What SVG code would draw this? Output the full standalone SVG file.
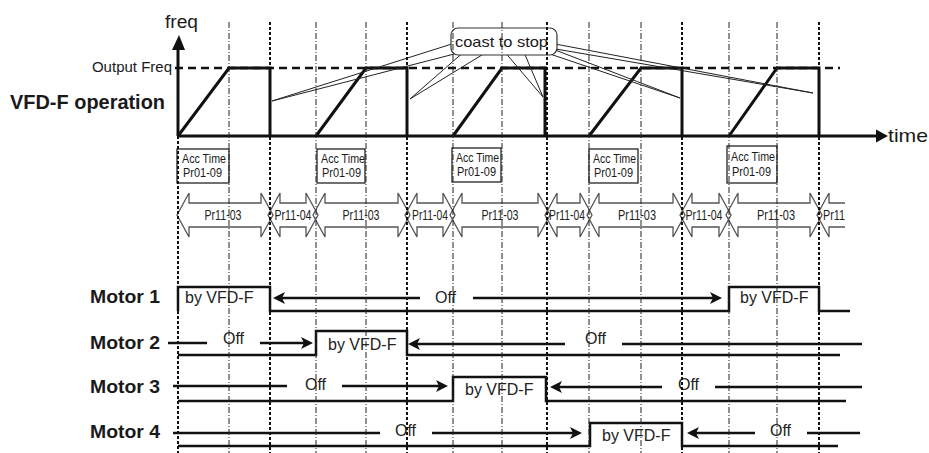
<svg xmlns="http://www.w3.org/2000/svg" width="929" height="453" viewBox="0 0 929 453">
<style>
  text { font-family: "Liberation Sans", Arial, sans-serif; fill: #1a1a1a; }
  .lbl { font-weight: bold; font-size: 18px; }
  .sig { fill: none; stroke: #111; stroke-width: 2.5; }
  .arr { fill: none; stroke: #111; stroke-width: 2.5; marker-end: url(#ah); }
  .lin { fill: none; stroke: #111; stroke-width: 2.5; }
  .txt { font-size: 16px; fill: #222; }
  .heavy { stroke: #111; stroke-width: 2; stroke-dasharray: 3 2; fill: none; }
  .light { stroke: #222; stroke-width: 1; stroke-dasharray: 6 2 1 2; fill: none; }
  .trace { fill: none; stroke: #111; stroke-width: 3; stroke-linejoin: miter; }
  .acc { fill: none; stroke: #111; stroke-width: 1.2; }
  .acct { font-size: 12.5px; fill: #1a1a1a; }
  .pr { fill: none; stroke: #555; stroke-width: 1.3; }
  .prt { font-size: 15px; fill: #222; }
  .tail { fill: none; stroke: #222; stroke-width: 1; }
</style>
<defs>
  <marker id="ah" viewBox="0 0 12 12" refX="8" refY="6" markerWidth="12" markerHeight="12" markerUnits="userSpaceOnUse" orient="auto">
    <path d="M0,0 L12,6 L0,12 L3,6 Z" fill="#111"/>
  </marker>
</defs>

<!-- axes -->
<g id="axes">
  <line x1="178" y1="136" x2="178" y2="48" stroke="#111" stroke-width="3"/>
  <polygon points="172,50 179,35 185,50" fill="#111"/>
  <line x1="178" y1="136" x2="878" y2="136" stroke="#111" stroke-width="3"/>
  <polygon points="876,129.5 888,136 876,142.5" fill="#111"/>
  <line x1="175" y1="68" x2="840" y2="68" stroke="#111" stroke-width="2.5" stroke-dasharray="8 5"/>
  <text x="165" y="28" font-size="18" textLength="33" lengthAdjust="spacingAndGlyphs">freq</text>
  <text x="888" y="142" font-size="19" textLength="40" lengthAdjust="spacingAndGlyphs">time</text>
  <text x="172" y="72" font-size="15" text-anchor="end" fill="#333">Output Freq</text>
  <text x="10" y="109" font-size="20" font-weight="bold" textLength="155" lengthAdjust="spacingAndGlyphs">VFD-F operation</text>
</g>

<!-- frequency trace -->
<g id="trace">
  <path class="trace" d="M178,136 L229,68 H270 V136 M316,136 L366,68 H407 V136 M453,136 L502,68 H545 V136 M589,136 L641,68 H682 V136 M729,136 L777,68 H819 V136"/>
</g>

<!-- callout tails -->
<g id="connectors">
  <polyline class="tail" points="458,42 272,101 462,52"/>
  <polyline class="tail" points="466,50 410,99 490,50"/>
  <polyline class="tail" points="503,50 543,97 523,50"/>
  <polyline class="tail" points="550,48 680,98 550,54"/>
  <polyline class="tail" points="550,43 813,93 550,48"/>
</g>

<g id="callout">
  <rect x="451" y="28" width="106" height="27" rx="7" fill="#fff" stroke="#333" stroke-width="1.2"/>
  <text x="455" y="47" font-size="15" textLength="93" lengthAdjust="spacingAndGlyphs" fill="#333">coast to stop</text>
</g>

<!-- Acc time boxes -->
<g id="acc1"><rect class="acc" x="177" y="149" width="52" height="34"/>
  <text class="acct" x="182" y="163" textLength="44" lengthAdjust="spacingAndGlyphs">Acc Time</text>
  <text class="acct" x="183" y="177" textLength="39" lengthAdjust="spacingAndGlyphs">Pr01-09</text></g>
<g id="acc2"><rect class="acc" x="317" y="149" width="48" height="34"/>
  <text class="acct" x="321" y="163" textLength="44" lengthAdjust="spacingAndGlyphs">Acc Time</text>
  <text class="acct" x="322" y="177" textLength="39" lengthAdjust="spacingAndGlyphs">Pr01-09</text></g>
<g id="acc3"><rect class="acc" x="452" y="148" width="49" height="34"/>
  <text class="acct" x="456" y="162" textLength="43" lengthAdjust="spacingAndGlyphs">Acc Time</text>
  <text class="acct" x="457" y="176" textLength="39" lengthAdjust="spacingAndGlyphs">Pr01-09</text></g>
<g id="acc4"><rect class="acc" x="589" y="149" width="49" height="34"/>
  <text class="acct" x="593" y="163" textLength="43" lengthAdjust="spacingAndGlyphs">Acc Time</text>
  <text class="acct" x="594" y="177" textLength="39" lengthAdjust="spacingAndGlyphs">Pr01-09</text></g>
<g id="acc5"><rect class="acc" x="727" y="146" width="50" height="37"/>
  <text class="acct" x="731" y="161" textLength="44" lengthAdjust="spacingAndGlyphs">Acc Time</text>
  <text class="acct" x="732" y="176" textLength="39" lengthAdjust="spacingAndGlyphs">Pr01-09</text></g>

<!-- Pr double arrows -->
<g id="pr1"><polygon class="pr" points="177,215 189,193 189,203 261,203 261,193 273,215 261,237 261,227 189,227 189,237"/>
  <text class="prt" x="223" y="220" text-anchor="middle" textLength="37" lengthAdjust="spacingAndGlyphs">Pr11-03</text></g>
<g id="pr2"><polygon class="pr" points="268,215 280,193 280,203 306,203 306,193 318,215 306,237 306,227 280,227 280,237"/>
  <text class="prt" x="293" y="220" text-anchor="middle" textLength="37" lengthAdjust="spacingAndGlyphs">Pr11-04</text></g>
<g id="pr3"><polygon class="pr" points="313,215 325,193 325,203 398,203 398,193 410,215 398,237 398,227 325,227 325,237"/>
  <text class="prt" x="361" y="220" text-anchor="middle" textLength="37" lengthAdjust="spacingAndGlyphs">Pr11-03</text></g>
<g id="pr4"><polygon class="pr" points="405,215 417,193 417,203 443,203 443,193 455,215 443,237 443,227 417,227 417,237"/>
  <text class="prt" x="430" y="220" text-anchor="middle" textLength="36" lengthAdjust="spacingAndGlyphs">Pr11-04</text></g>
<g id="pr5"><polygon class="pr" points="450,215 462,193 462,203 538,203 538,193 550,215 538,237 538,227 462,227 462,237"/>
  <text class="prt" x="500" y="220" text-anchor="middle" textLength="37" lengthAdjust="spacingAndGlyphs">Pr11-03</text></g>
<g id="pr6"><polygon class="pr" points="545,215 557,193 557,203 580,203 580,193 592,215 580,237 580,227 557,227 557,237"/>
  <text class="prt" x="567" y="220" text-anchor="middle" textLength="36" lengthAdjust="spacingAndGlyphs">Pr11-04</text></g>
<g id="pr7"><polygon class="pr" points="587,215 599,193 599,203 673,203 673,193 685,215 673,237 673,227 599,227 599,237"/>
  <text class="prt" x="637" y="220" text-anchor="middle" textLength="38" lengthAdjust="spacingAndGlyphs">Pr11-03</text></g>
<g id="pr8"><polygon class="pr" points="680,215 692,193 692,203 719,203 719,193 731,215 719,237 719,227 692,227 692,237"/>
  <text class="prt" x="704" y="220" text-anchor="middle" textLength="37" lengthAdjust="spacingAndGlyphs">Pr11-04</text></g>
<g id="pr9"><polygon class="pr" points="726,215 738,193 738,203 810,203 810,193 822,215 810,237 810,227 738,227 738,237"/>
  <text class="prt" x="776" y="220" text-anchor="middle" textLength="38" lengthAdjust="spacingAndGlyphs">Pr11-03</text></g>
<g id="pr10"><polyline class="pr" points="845,203 829,203 829,193 817,215 829,237 829,227 845,227"/>
  <text class="prt" x="823" y="220" textLength="22" lengthAdjust="spacingAndGlyphs">Pr11</text></g>

<!-- Motor 1 -->
<g id="motor1">
  <text class="lbl" x="90" y="303" textLength="70" lengthAdjust="spacingAndGlyphs">Motor 1</text>
  <path class="sig" d="M178,311 V287 H270 V311 H729 V287 H819 V311 H850"/>
  <text class="txt" x="185" y="303">by VFD-F</text>
  <text class="txt" x="740" y="303">by VFD-F</text>
  <line class="arr" x1="420" y1="298" x2="277" y2="298"/>
  <text class="txt" x="435" y="303">Off</text>
  <line class="arr" x1="473" y1="298" x2="718" y2="298"/>
</g>

<!-- Motor 2 -->
<g id="motor2">
  <text class="lbl" x="90" y="349" textLength="70" lengthAdjust="spacingAndGlyphs">Motor 2</text>
  <path class="sig" d="M178,355 H316 V331 H407 V355 H840"/>
  <line class="lin" x1="168" y1="343" x2="207" y2="343"/>
  <text class="txt" x="223" y="344">Off</text>
  <line class="arr" x1="260" y1="343" x2="309" y2="343"/>
  <text class="txt" x="328" y="350">by VFD-F</text>
  <line class="arr" x1="565" y1="344" x2="412" y2="344"/>
  <text class="txt" x="585" y="344">Off</text>
  <line class="lin" x1="622" y1="344" x2="862" y2="344"/>
</g>

<!-- Motor 3 -->
<g id="motor3">
  <text class="lbl" x="90" y="393" textLength="70" lengthAdjust="spacingAndGlyphs">Motor 3</text>
  <path class="sig" d="M178,401 H453 V377 H546 V401 H846"/>
  <line class="lin" x1="173" y1="386" x2="287" y2="386"/>
  <text class="txt" x="305" y="390">Off</text>
  <line class="arr" x1="342" y1="386" x2="444" y2="386"/>
  <text class="txt" x="465" y="395">by VFD-F</text>
  <line class="arr" x1="662" y1="387" x2="554" y2="387"/>
  <text class="txt" x="678" y="390">Off</text>
  <line class="lin" x1="715" y1="387" x2="862" y2="387"/>
</g>

<!-- Motor 4 -->
<g id="motor4">
  <text class="lbl" x="90" y="438" textLength="70" lengthAdjust="spacingAndGlyphs">Motor 4</text>
  <path class="sig" d="M178,446 H590 V423 H682 V446 H838"/>
  <line class="lin" x1="173" y1="433" x2="380" y2="433"/>
  <text class="txt" x="395" y="436">Off</text>
  <line class="arr" x1="432" y1="433" x2="578" y2="433"/>
  <text class="txt" x="602" y="441">by VFD-F</text>
  <line class="arr" x1="755" y1="433" x2="691" y2="433"/>
  <text class="txt" x="770" y="436">Off</text>
  <line class="lin" x1="807" y1="433" x2="860" y2="433"/>
</g>

<!-- time guide lines -->
<g id="guides">
  <line class="heavy" x1="178" y1="136" x2="178" y2="453"/>
  <line class="heavy" x1="270" y1="22" x2="270" y2="453"/>
  <line class="heavy" x1="407" y1="22" x2="407" y2="453"/>
  <line class="heavy" x1="547" y1="22" x2="547" y2="453"/>
  <line class="heavy" x1="682" y1="22" x2="682" y2="453"/>
  <line class="heavy" x1="819" y1="22" x2="819" y2="453"/>
  <line class="light" x1="229" y1="22" x2="229" y2="453"/>
  <line class="light" x1="316" y1="22" x2="316" y2="453"/>
  <line class="light" x1="366" y1="22" x2="366" y2="453"/>
  <line class="light" x1="453" y1="22" x2="453" y2="453"/>
  <line class="light" x1="502" y1="22" x2="502" y2="453"/>
  <line class="light" x1="589" y1="22" x2="589" y2="453"/>
  <line class="light" x1="641" y1="22" x2="641" y2="453"/>
  <line class="light" x1="729" y1="22" x2="729" y2="453"/>
  <line class="light" x1="777" y1="22" x2="777" y2="453"/>
</g>
</svg>
